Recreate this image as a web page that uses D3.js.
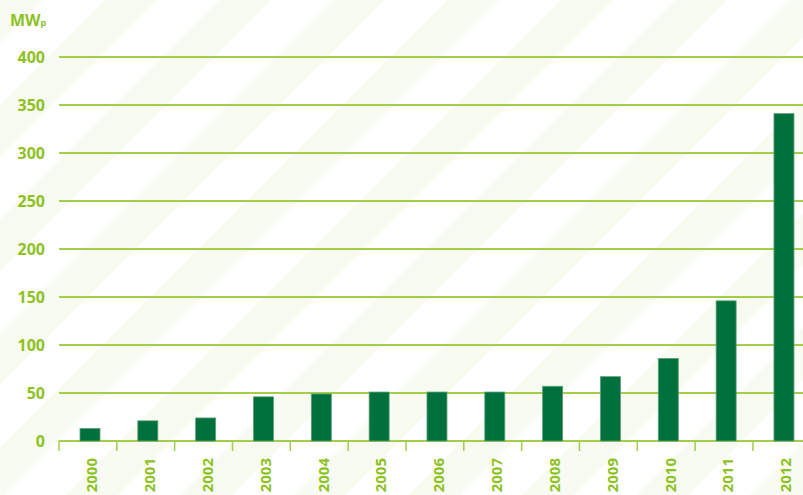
<!DOCTYPE html>
<html>
<head>
<meta charset="utf-8">
<script src="https://cdn.jsdelivr.net/npm/d3@7"></script>
<style>
  body { margin: 0; background: #fff; }
  svg { display: block; font-family: "Open Sans", "Liberation Sans", sans-serif; }
</style>
</head>
<body>
<div class="chart"></div>
<script>
// chart size
var svgWidth = 803;
var svgHeight = 495;

// data
var years = ["2000", "2001", "2002", "2003", "2004", "2005", "2006",
             "2007", "2008", "2009", "2010", "2011", "2012"];
var capacity = [13, 21, 24, 46, 49, 51, 51, 51, 57, 67, 86, 146, 341];
var yTicks = [0, 50, 100, 150, 200, 250, 300, 350, 400];

var labelColor = "#8dc21f";
var gridColor = "#a3cd4a";
var barColor = "#00703c";

var svg = d3.select(".chart").append("svg")
  .attr("width", svgWidth)
  .attr("height", svgHeight);

// light diagonal stripes in the background
var defs = svg.append("defs");
var stripeStep = 114 / Math.SQRT2;
var stripe = defs.append("pattern")
  .attr("id", "stripes")
  .attr("patternUnits", "userSpaceOnUse")
  .attr("width", stripeStep)
  .attr("height", 40)
  .attr("patternTransform", `rotate(45) translate(${333 / Math.SQRT2}, 0)`);
stripe.append("rect")
  .attr("width", stripeStep)
  .attr("height", 40)
  .attr("fill", "#ffffff");
stripe.append("rect")
  .attr("width", 52 / Math.SQRT2)
  .attr("height", 40)
  .attr("fill", "#f7fbf1");

svg.append("rect")
  .attr("width", svgWidth)
  .attr("height", svgHeight)
  .attr("fill", "url(#stripes)");

// scales
var xBandScale = d3.scaleBand()
  .domain(years)
  .range([59, 59 + 13 * 57.83])
  .padding(0);

var yLinearScale = d3.scaleLinear()
  .domain([0, 400])
  .range([441, 57]);

// gridlines
svg.append("g")
  .selectAll("line")
  .data(yTicks)
  .enter()
  .append("line")
  .attr("x1", 59)
  .attr("x2", svgWidth)
  .attr("y1", d => yLinearScale(d))
  .attr("y2", d => yLinearScale(d))
  .attr("stroke", gridColor)
  .attr("stroke-width", 2);

// y labels
svg.append("g")
  .selectAll("text")
  .data(yTicks)
  .enter()
  .append("text")
  .attr("x", 45)
  .attr("y", d => yLinearScale(d))
  .attr("dy", "0.36em")
  .attr("text-anchor", "end")
  .attr("fill", labelColor)
  .style("font-size", "16px")
  .style("font-weight", "700")
  .text(d => d);

// unit label
var unit = svg.append("text")
  .attr("x", 10)
  .attr("y", 26)
  .attr("fill", labelColor)
  .style("font-size", "16px")
  .style("font-weight", "700");
unit.append("tspan").text("MW");
unit.append("tspan")
  .style("font-size", "9px")
  .text("p");

// bars
var barWidth = 20;
svg.append("g")
  .selectAll("rect")
  .data(years)
  .enter()
  .append("rect")
  .attr("x", d => xBandScale(d) + 21)
  .attr("y", (d, i) => yLinearScale(capacity[i]))
  .attr("width", barWidth)
  .attr("height", (d, i) => yLinearScale(0) - yLinearScale(capacity[i]))
  .attr("fill", barColor)
  .attr("stroke", "#5e9f76")
  .attr("stroke-width", 0.8);

// bottom axis ticks at band boundaries
svg.append("g")
  .selectAll("line")
  .data(years)
  .enter()
  .append("line")
  .attr("x1", d => xBandScale(d))
  .attr("x2", d => xBandScale(d))
  .attr("y1", 441)
  .attr("y2", 451)
  .attr("stroke", gridColor)
  .attr("stroke-width", 1.5);

// year labels, rotated
svg.append("g")
  .selectAll("text")
  .data(years)
  .enter()
  .append("text")
  .attr("transform", d => `translate(${xBandScale(d) + xBandScale.bandwidth() / 2 + 4}, 458) rotate(-90)`)
  .attr("dy", "0.36em")
  .attr("text-anchor", "end")
  .attr("fill", labelColor)
  .style("font-size", "15px")
  .style("font-weight", "700")
  .text(d => d);
</script>
</body>
</html>
